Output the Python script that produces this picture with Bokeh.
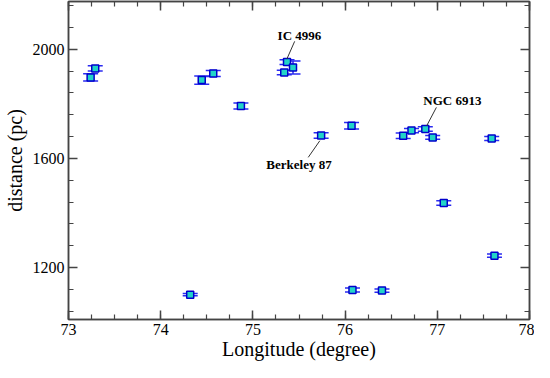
from bokeh.plotting import figure
from bokeh.models import (ColumnDataSource, Whisker, TeeHead, LinearAxis,
                          SingleIntervalTicker, Range1d)
from bokeh.core.properties import value
from bokeh.embed import file_html
from bokeh.resources import INLINE

# data
longitude = [73.24, 73.29, 74.445, 74.57, 74.87, 75.37, 75.435, 75.34, 75.74,
             76.07, 76.63, 76.72, 76.87, 76.95, 77.59, 74.32, 77.07, 77.62,
             76.08, 76.40]
distance = [1897, 1930, 1887, 1911, 1792, 1953, 1933, 1915, 1684,
            1720, 1683, 1702, 1708, 1677, 1673, 1101, 1437, 1244,
            1118, 1116]
dist_err = [13, 10, 15, 11, 11, 9, 24, 8, 10,
            12, 10, 8, 8, 7, 7, 4, 8, 6,
            7, 6]

label_text = ["IC 4996", "NGC 6913", "Berkeley 87"]
label_x = [75.505, 77.163, 75.50]
label_y = [2050, 1813, 1578]
leader_x0 = [75.453, 76.99, 75.60]
leader_y0 = [2029, 1787, 1604]
leader_x1 = [75.368, 76.884, 75.726]
leader_y1 = [1964, 1719, 1665]

x_ticks_interval = 1
y_ticks_interval = 400

FONT = "Liberation Serif"
FRAME = "#444444"
BLUE = "#2a2af0"

p = figure(width=534, height=362, output_backend="svg", toolbar_location=None,
           x_range=Range1d(73, 78), y_range=Range1d(1010, 2175),
           min_border_left=54, min_border_right=5, min_border_top=1,
           min_border_bottom=37)
p.background_fill_color = "white"
p.border_fill_color = "white"
p.xgrid.visible = False
p.ygrid.visible = False
p.outline_line_color = FRAME
p.outline_line_width = 1.5

src = ColumnDataSource(dict(
    x=longitude, y=distance,
    lo=[d - e for d, e in zip(distance, dist_err)],
    hi=[d + e for d, e in zip(distance, dist_err)],
))

w = Whisker(base="x", lower="lo", upper="hi", source=src,
            line_color=BLUE, line_width=1.5,
            upper_head=TeeHead(size=15, line_color=BLUE, line_width=1.5),
            lower_head=TeeHead(size=15, line_color=BLUE, line_width=1.5))
p.add_layout(w)

p.scatter("x", "y", source=src, marker="square", size=7,
          fill_color="#22d4c8", line_color="#0000cc", line_width=1.5)

# labels and leader lines
p.segment(x0=leader_x0, y0=leader_y0, x1=leader_x1, y1=leader_y1,
          line_color="#333333", line_width=1)
p.text(x=label_x, y=label_y, text=label_text, text_font=value(FONT),
       text_font_style="bold", text_font_size="13px", text_align="center",
       text_baseline="middle", text_color="black")

xt = SingleIntervalTicker(interval=x_ticks_interval, num_minor_ticks=4)
yt = SingleIntervalTicker(interval=y_ticks_interval, num_minor_ticks=5)

def style(ax, labels=True):
    ax.axis_line_color = FRAME
    ax.axis_line_width = 1.5
    ax.major_tick_in = 9
    ax.major_tick_out = 0
    ax.minor_tick_in = 5
    ax.minor_tick_out = 0
    ax.major_tick_line_color = FRAME
    ax.minor_tick_line_color = FRAME
    ax.major_tick_line_width = 1.5
    ax.minor_tick_line_width = 1.2
    ax.major_label_text_font = FONT
    ax.major_label_text_font_size = "16px"
    ax.major_label_text_color = "black" if labels else None
    ax.major_label_standoff = 4
    ax.axis_label_text_font = FONT
    ax.axis_label_text_font_style = "normal"
    ax.axis_label_text_font_size = "20px"
    ax.axis_label_text_color = "black"

xa = p.below[0]
ya = p.left[0]
xa.ticker = xt
ya.ticker = yt
xa.axis_label = "Longitude (degree)"
ya.axis_label = "distance (pc)"
style(xa)
style(ya)
xa.axis_label_standoff = 0
ya.axis_label_standoff = 4

top = LinearAxis(ticker=xt)
right = LinearAxis(ticker=yt)
style(top, labels=False)
style(right, labels=False)
top.major_label_text_font_size = "0px"
right.major_label_text_font_size = "0px"
top.major_label_standoff = 0
right.major_label_standoff = 0
p.add_layout(top, "above")
p.add_layout(right, "right")

open("out.html", "w").write(file_html(p, INLINE))
